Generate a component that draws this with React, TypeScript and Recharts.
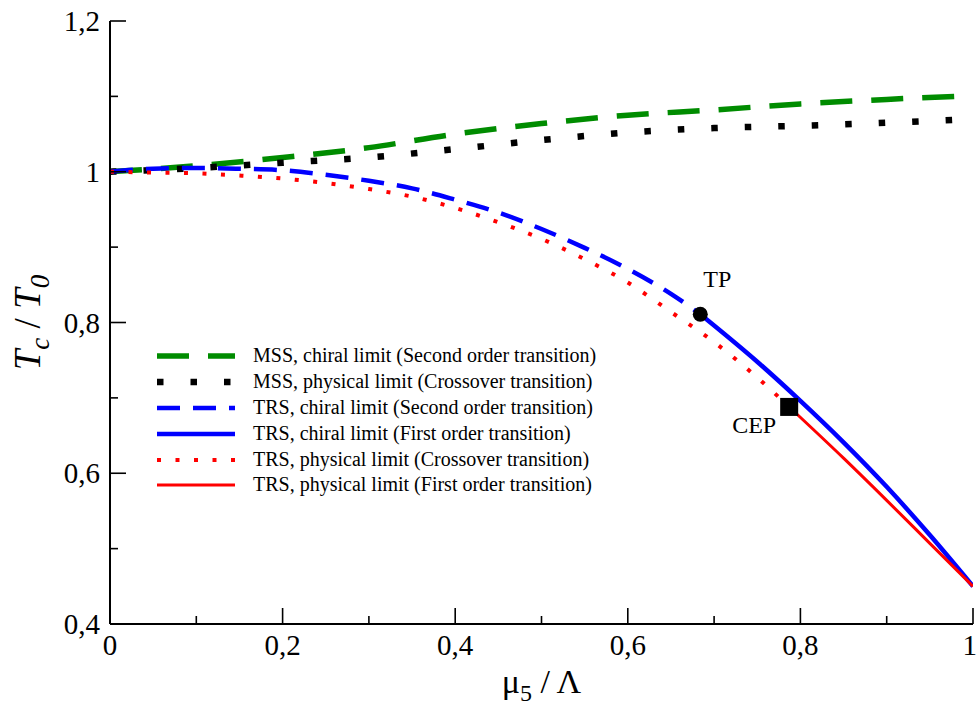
import { LineChart, Line, XAxis, YAxis, Legend, ReferenceDot } from 'recharts';

type Pt = { x: number; y: number };

// MSS, chiral limit (second order)
const mssChiral: Pt[] = [
  { x: 0, y: 1.0 }, { x: 0.1, y: 1.008 }, { x: 0.2, y: 1.019 }, { x: 0.3, y: 1.032 },
  { x: 0.4, y: 1.05 }, { x: 0.5, y: 1.064 }, { x: 0.6, y: 1.075 }, { x: 0.7, y: 1.082 },
  { x: 0.8, y: 1.09 }, { x: 0.9, y: 1.096 }, { x: 1.0, y: 1.101 },
];

// MSS, physical limit (crossover)
const mssPhysical: Pt[] = [
  { x: 0, y: 1.0 }, { x: 0.1, y: 1.005 }, { x: 0.2, y: 1.012 }, { x: 0.3, y: 1.019 },
  { x: 0.4, y: 1.03 }, { x: 0.5, y: 1.042 }, { x: 0.6, y: 1.052 }, { x: 0.7, y: 1.058 },
  { x: 0.8, y: 1.061 }, { x: 0.9, y: 1.065 }, { x: 1.0, y: 1.07 },
];

// TRS, chiral limit, second order part (up to TP)
const trsChiralSecond: Pt[] = [
  { x: 0, y: 1.0 }, { x: 0.05, y: 1.004 }, { x: 0.1, y: 1.005 }, { x: 0.15, y: 1.004 },
  { x: 0.2, y: 1.002 }, { x: 0.25, y: 0.996 }, { x: 0.3, y: 0.988 }, { x: 0.35, y: 0.978 },
  { x: 0.4, y: 0.963 }, { x: 0.45, y: 0.946 }, { x: 0.5, y: 0.924 }, { x: 0.55, y: 0.899 },
  { x: 0.6, y: 0.871 }, { x: 0.65, y: 0.838 }, { x: 0.684, y: 0.811 },
];

// TRS, chiral limit, first order part (from TP)
const trsChiralFirst: Pt[] = [
  { x: 0.684, y: 0.811 }, { x: 0.75, y: 0.748 }, { x: 0.8, y: 0.696 }, { x: 0.85, y: 0.641 },
  { x: 0.9, y: 0.582 }, { x: 0.95, y: 0.518 }, { x: 1.0, y: 0.45 },
];

// TRS, physical limit, crossover part (up to CEP)
const trsPhysicalCross: Pt[] = [
  { x: 0, y: 1.0 }, { x: 0.05, y: 0.999 }, { x: 0.1, y: 0.998 }, { x: 0.15, y: 0.995 },
  { x: 0.2, y: 0.991 }, { x: 0.25, y: 0.985 }, { x: 0.3, y: 0.977 }, { x: 0.35, y: 0.967 },
  { x: 0.4, y: 0.952 }, { x: 0.45, y: 0.933 }, { x: 0.5, y: 0.911 }, { x: 0.55, y: 0.884 },
  { x: 0.6, y: 0.853 }, { x: 0.65, y: 0.814 }, { x: 0.7, y: 0.774 }, { x: 0.75, y: 0.727 },
  { x: 0.787, y: 0.688 },
];

// TRS, physical limit, first order part (from CEP)
const trsPhysicalFirst: Pt[] = [
  { x: 0.787, y: 0.688 }, { x: 0.85, y: 0.62 }, { x: 0.9, y: 0.564 }, { x: 0.95, y: 0.507 },
  { x: 1.0, y: 0.45 },
];

const TP: Pt = { x: 0.684, y: 0.811 };
const CEP: Pt = { x: 0.787, y: 0.688 };

const X_TICKS = [0, 0.1, 0.2, 0.3, 0.4, 0.5, 0.6, 0.7, 0.8, 0.9, 1];
const Y_TICKS = [0.4, 0.5, 0.6, 0.7, 0.8, 0.9, 1, 1.1, 1.2];

const SERIES = [
  { key: 'g', name: 'MSS, chiral limit (Second order transition)', data: mssChiral, color: '#008c00', width: 5.5, dash: '32 19' },
  { key: 'k', name: 'MSS, physical limit (Crossover transition)', data: mssPhysical, color: '#000000', width: 6.5, dash: '6.5 27' },
  { key: 'b2', name: 'TRS, chiral limit (Second order transition)', data: trsChiralSecond, color: '#0000ff', width: 4.5, dash: '23 13' },
  { key: 'b1', name: 'TRS, chiral limit (First order transition)', data: trsChiralFirst, color: '#0000ff', width: 4.5, dash: undefined },
  { key: 'r2', name: 'TRS, physical limit (Crossover transition)', data: trsPhysicalCross, color: '#ff0000', width: 4, dash: '4 14.5' },
  { key: 'r1', name: 'TRS, physical limit (First order transition)', data: trsPhysicalFirst, color: '#ff0000', width: 3, dash: undefined },
];

const FONT = '"Liberation Serif", "Times New Roman", serif';
const MAJOR = 16;
const MINOR = 8;

const isMajor = (v: number) => Math.round(v * 10) % 2 === 0;
const fmt = (v: number) => String(Math.round(v * 10) / 10).replace('.', ',');

function BottomTick({ x, y, payload }: any) {
  const major = isMajor(payload.value);
  const last = payload.value === 1;
  return (
    <g>
      <line x1={x} x2={x} y1={y} y2={y - (major ? MAJOR : MINOR)} stroke="#000" strokeWidth={1.6} />
      {major && (
        <text
          x={last ? x + 4 : x}
          y={y + 31}
          textAnchor={last ? 'end' : 'middle'}
          fontSize={29}
          fontFamily={FONT}
          fill="#000"
        >
          {fmt(payload.value)}
        </text>
      )}
    </g>
  );
}

function TopTick({ x, y, payload }: any) {
  const major = isMajor(payload.value);
  return <line x1={x} x2={x} y1={y} y2={y + (major ? MAJOR : MINOR)} stroke="#000" strokeWidth={1.6} />;
}

function LeftTick({ x, y, payload }: any) {
  const major = isMajor(payload.value);
  return (
    <g>
      <line x1={x} x2={x + (major ? MAJOR : MINOR)} y1={y} y2={y} stroke="#000" strokeWidth={1.6} />
      {major && (
        <text x={x - 10} y={y + 10} textAnchor="end" fontSize={29} fontFamily={FONT} fill="#000">
          {fmt(payload.value)}
        </text>
      )}
    </g>
  );
}

function RightTick({ x, y, payload }: any) {
  const major = isMajor(payload.value);
  return <line x1={x} x2={x - (major ? MAJOR : MINOR)} y1={y} y2={y} stroke="#000" strokeWidth={1.6} />;
}

function XTitle({ viewBox }: any) {
  const cx = viewBox.x + viewBox.width / 2;
  return (
    <text x={cx} y={693} textAnchor="middle" fontSize={34} fontFamily={FONT} fill="#000">
      μ<tspan fontSize={24} dy={8}>5</tspan>
      <tspan dy={-8}>{' / Λ'}</tspan>
    </text>
  );
}

function YTitle({ viewBox }: any) {
  const cy = viewBox.y + viewBox.height / 2;
  return (
    <text
      x={40}
      y={cy}
      transform={`rotate(-90, 40, ${cy})`}
      textAnchor="middle"
      fontSize={37}
      fontFamily={FONT}
      fill="#000"
    >
      <tspan fontStyle="italic">T</tspan>
      <tspan fontStyle="italic" fontSize={27} dy={9}>c</tspan>
      <tspan dy={-9}>{' / '}</tspan>
      <tspan fontStyle="italic">T</tspan>
      <tspan fontStyle="italic" fontSize={27} dy={9}>0</tspan>
    </text>
  );
}

function LegendBox() {
  return (
    <div style={{ fontFamily: FONT, fontSize: 20, color: '#000' }}>
      {SERIES.map((s) => (
        <div key={s.key} style={{ display: 'flex', alignItems: 'center', height: 25.9 }}>
          <svg width={78} height={12} style={{ display: 'block' }}>
            <line x1={0} x2={78} y1={6} y2={6} stroke={s.color} strokeWidth={s.width} strokeDasharray={s.dash} />
          </svg>
          <span style={{ marginLeft: 18, whiteSpace: 'nowrap', lineHeight: '25.9px' }}>{s.name}</span>
        </div>
      ))}
    </div>
  );
}

export default function App() {
  return (
    <div style={{ position: 'absolute', left: 0, top: 0, background: '#fff' }}>
      <LineChart width={976} height={706} margin={{ top: 21, right: 3, bottom: 0, left: 0 }}>
        <XAxis
          dataKey="x"
          type="number"
          domain={[0, 1]}
          ticks={X_TICKS}
          allowDataOverflow
          height={82}
          tickSize={0}
          tickMargin={0}
          tickLine={false}
          tick={<BottomTick />}
          axisLine={{ stroke: '#000', strokeWidth: 2 }}
          interval={0}
          label={{ content: <XTitle /> }}
        />
        <XAxis
          xAxisId="top"
          orientation="top"
          dataKey="x"
          type="number"
          domain={[0, 1]}
          ticks={X_TICKS}
          allowDataOverflow
          height={0}
          tickSize={0}
          tickMargin={0}
          tickLine={false}
          tick={<TopTick />}
          axisLine={{ stroke: '#000', strokeWidth: 2 }}
          interval={0}
        />
        <YAxis
          type="number"
          domain={[0.4, 1.2]}
          ticks={Y_TICKS}
          allowDataOverflow
          width={110}
          tickSize={0}
          tickMargin={0}
          tickLine={false}
          tick={<LeftTick />}
          axisLine={{ stroke: '#000', strokeWidth: 2 }}
          interval={0}
          label={{ content: <YTitle /> }}
        />
        <YAxis
          yAxisId="right"
          orientation="right"
          type="number"
          domain={[0.4, 1.2]}
          ticks={Y_TICKS}
          allowDataOverflow
          width={0}
          tickSize={0}
          tickMargin={0}
          tickLine={false}
          tick={<RightTick />}
          axisLine={{ stroke: '#000', strokeWidth: 2 }}
          interval={0}
        />
        <Legend
          layout="horizontal"
          verticalAlign="middle"
          align="center"
          content={<LegendBox />}
          wrapperStyle={{ left: 157, top: 343, width: 460 }}
        />
        {SERIES.map((s) => (
          <Line
            key={s.key}
            name={s.name}
            data={s.data}
            dataKey="y"
            type="monotone"
            stroke={s.color}
            strokeWidth={s.width}
            strokeDasharray={s.dash}
            dot={false}
            activeDot={false}
            isAnimationActive={false}
          />
        ))}
        <ReferenceDot
          x={TP.x}
          y={TP.y}
          r={7.5}
          isFront
          shape={(p: any) => (
            <g>
              <circle cx={p.cx} cy={p.cy} r={7.5} fill="#000" />
              <text x={p.cx + 17} y={p.cy - 27} textAnchor="middle" fontSize={24} fontFamily={FONT} fill="#000">
                TP
              </text>
            </g>
          )}
        />
        <ReferenceDot
          x={CEP.x}
          y={CEP.y}
          r={9}
          isFront
          shape={(p: any) => (
            <g>
              <rect x={p.cx - 9} y={p.cy - 9} width={18} height={18} fill="#000" />
              <text x={p.cx - 13} y={p.cy + 26} textAnchor="end" fontSize={24} fontFamily={FONT} fill="#000">
                CEP
              </text>
            </g>
          )}
        />
      </LineChart>
    </div>
  );
}
